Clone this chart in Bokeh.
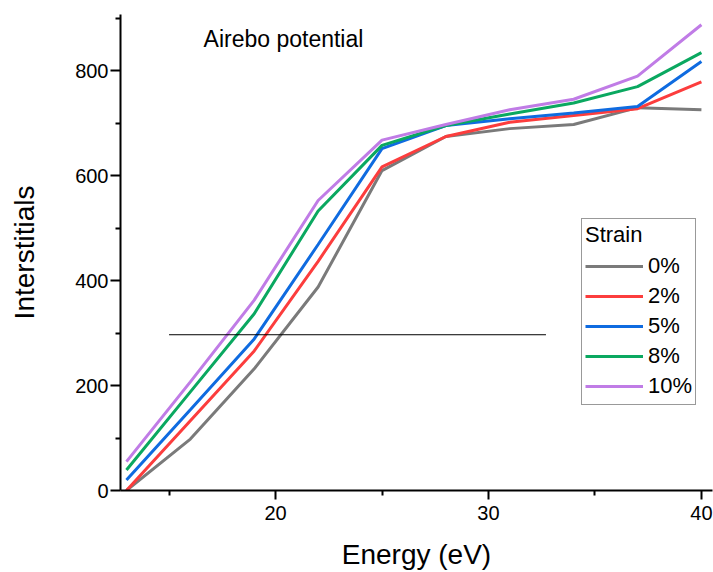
from bokeh.plotting import figure
from bokeh.models import Range1d, FixedTicker, Legend, LegendItem, Label
from bokeh.embed import file_html
from bokeh.resources import INLINE

energy = [13, 16, 19, 22, 25, 28, 31, 34, 37, 40]
strain_labels = ["0%", "2%", "5%", "8%", "10%"]
s0 = [0, 98, 232, 388, 610, 675, 690, 698, 730, 726]
s2 = [0, 133, 266, 437, 617, 675, 702, 715, 728, 779]
s5 = [20, 154, 289, 469, 652, 696, 709, 720, 732, 818]
s8 = [39, 188, 337, 533, 658, 696, 718, 739, 770, 835]
s10 = [55, 207, 363, 553, 668, 698, 726, 746, 790, 888]
series = [s0, s2, s5, s8, s10]
colors = ["#7a7a7a", "#fc3d3d", "#0f6be0", "#0aa860", "#c07ce6"]

hline_x = [15.0, 32.7]
hline_y = [297, 297]

x_major = [20, 30, 40]
x_minor = [15, 25, 35]
y_major = [0, 200, 400, 600, 800]
y_minor = [100, 300, 500, 700, 900]

FONT = "Liberation Sans"

p = figure(width=713, height=572, output_backend="svg", toolbar_location=None,
           x_range=Range1d(12.72, 40.52), y_range=Range1d(0, 907.6),
           min_border_left=120, min_border_right=1, min_border_top=14,
           min_border_bottom=81)
p.outline_line_color = None
p.grid.visible = False
p.background_fill_color = "white"
p.border_fill_color = "white"

items = []
for lab, ys, c in zip(strain_labels, series, colors):
    r = p.line(energy, ys, line_color=c, line_width=3)
    items.append(LegendItem(label=lab, renderers=[r]))

p.line(hline_x, hline_y, line_color="black", line_width=1)

for ax in (p.xaxis[0], p.yaxis[0]):
    ax.axis_line_width = 2
    ax.major_tick_line_width = 2
    ax.minor_tick_line_width = 2
    ax.major_tick_in = 0
    ax.minor_tick_in = 0
    ax.major_label_text_font = FONT
    ax.major_label_text_font_size = "20px"
    ax.major_label_text_color = "black"
    ax.axis_label_text_font = FONT
    ax.axis_label_text_font_size = "28px"
    ax.axis_label_text_font_style = "normal"
    ax.axis_label_text_color = "black"

p.xaxis[0].ticker = FixedTicker(ticks=x_major, minor_ticks=x_minor)
p.yaxis[0].ticker = FixedTicker(ticks=y_major, minor_ticks=y_minor)
p.xaxis[0].major_tick_out = 9
p.xaxis[0].minor_tick_out = 5
p.yaxis[0].major_tick_out = 10
p.yaxis[0].minor_tick_out = 5
p.xaxis[0].axis_label = "Energy (eV)"
p.yaxis[0].axis_label = "Interstitials"
p.xaxis[0].major_label_standoff = 6
p.yaxis[0].major_label_standoff = 2
p.xaxis[0].axis_label_standoff = 16
p.yaxis[0].axis_label_standoff = 32

p.add_layout(Label(x=16.62, y=860, text="Airebo potential", text_font=FONT,
                   text_font_size="23px", text_color="black",
                   text_baseline="alphabetic"))

legend = Legend(items=items, location=(461, 85), title="Strain",
                title_text_font=FONT, title_text_font_size="22px",
                title_text_font_style="normal", title_text_color="black",
                title_standoff=3,
                label_text_font=FONT, label_text_font_size="22px",
                label_text_color="black",
                glyph_width=58, glyph_height=30, label_height=30,
                label_standoff=5, spacing=0, padding=3, margin=0,
                border_line_color="#333333", border_line_width=1,
                background_fill_color="white", background_fill_alpha=1)
p.add_layout(legend)

open("out.html", "w").write(file_html(p, INLINE))
